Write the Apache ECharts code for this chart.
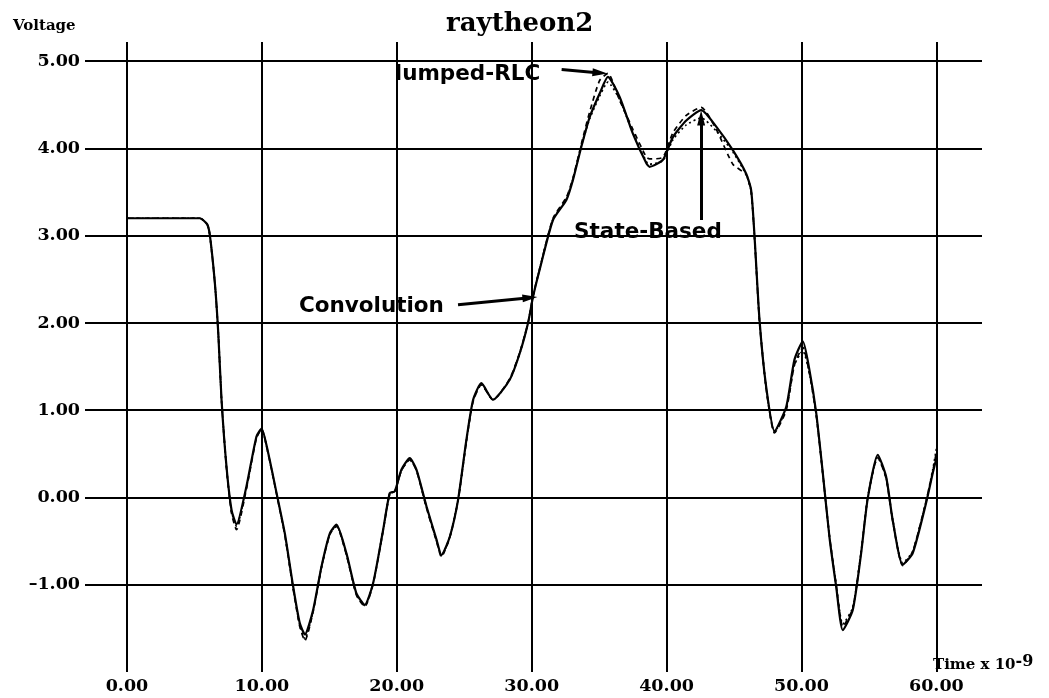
<!DOCTYPE html>
<html>
<head>
<meta charset="utf-8">
<script src="https://cdn.jsdelivr.net/npm/echarts@6/dist/echarts.min.js"></script>
<style>html,body{margin:0;padding:0;background:#fff}#c{width:1049px;height:698px}</style>
</head>
<body>
<div id="c"></div>
<script>
// Time (ns)
const timeNs = [0, 5.4, 5.95, 6.15, 6.52, 6.77, 7.01, 7.38, 7.75, 8.12, 8.86, 9.6, 9.98, 10.47, 11.09, 11.7, 12.32, 12.81, 13.19, 13.8, 14.42, 15.04, 15.53, 16.27, 17.01, 17.63, 18.25, 18.99, 19.48, 19.85, 20.35, 20.96, 21.46, 22.2, 22.94, 23.31, 23.93, 24.54, 25.16, 25.66, 26.27, 27.13, 28.37, 29.11, 29.73, 30.1, 30.59, 31.58, 32.57, 33.06, 33.68, 34.3, 35.04, 35.65, 36.52, 37.5, 38.5, 38.74, 39.73, 40.47, 41.46, 42.57, 43.68, 44.91, 45.9, 46.27, 46.52, 46.89, 47.38, 48.0, 48.87, 49.48, 50.1, 50.59, 51.09, 51.58, 52.07, 52.57, 53.06, 53.8, 54.42, 54.91, 55.65, 56.27, 56.76, 57.5, 58.24, 59.24, 59.73, 60.0];
const convolution = [3.20, 3.20, 3.13, 3.00, 2.45, 1.88, 1.12, 0.35, -0.14, -0.31, 0.13, 0.70, 0.79, 0.51, 0.05, -0.41, -1.02, -1.44, -1.57, -1.29, -0.79, -0.41, -0.31, -0.64, -1.10, -1.23, -0.98, -0.37, 0.05, 0.07, 0.32, 0.45, 0.32, -0.10, -0.48, -0.66, -0.45, -0.03, 0.66, 1.12, 1.31, 1.12, 1.35, 1.65, 2.00, 2.30, 2.61, 3.18, 3.41, 3.64, 4.02, 4.36, 4.63, 4.82, 4.59, 4.17, 3.83, 3.79, 3.87, 4.13, 4.32, 4.44, 4.25, 3.98, 3.71, 3.52, 2.99, 2.03, 1.27, 0.76, 1.04, 1.58, 1.79, 1.46, 0.97, 0.28, -0.45, -1.02, -1.52, -1.29, -0.64, -0.01, 0.49, 0.24, -0.26, -0.77, -0.64, -0.06, 0.28, 0.45];
const lumpedRLC = [3.20, 3.20, 3.13, 3.00, 2.45, 1.88, 1.12, 0.33, -0.18, -0.37, 0.10, 0.68, 0.78, 0.50, 0.04, -0.43, -1.05, -1.48, -1.64, -1.31, -0.80, -0.42, -0.33, -0.66, -1.12, -1.25, -0.99, -0.38, 0.04, 0.07, 0.31, 0.43, 0.31, -0.12, -0.50, -0.68, -0.46, -0.04, 0.64, 1.10, 1.29, 1.12, 1.36, 1.66, 2.00, 2.31, 2.62, 3.20, 3.44, 3.66, 4.05, 4.42, 4.78, 4.86, 4.55, 4.22, 3.90, 3.88, 3.90, 4.18, 4.38, 4.47, 4.22, 3.82, 3.70, 3.50, 2.97, 2.01, 1.25, 0.74, 1.00, 1.52, 1.72, 1.42, 0.95, 0.27, -0.44, -1.00, -1.48, -1.27, -0.63, 0.00, 0.46, 0.22, -0.27, -0.78, -0.62, -0.04, 0.30, 0.52];
const stateBased = [3.20, 3.20, 3.13, 3.00, 2.45, 1.88, 1.12, 0.34, -0.16, -0.33, 0.12, 0.69, 0.78, 0.50, 0.04, -0.42, -1.04, -1.46, -1.62, -1.30, -0.80, -0.42, -0.32, -0.65, -1.11, -1.24, -0.98, -0.37, 0.05, 0.07, 0.31, 0.44, 0.31, -0.11, -0.49, -0.67, -0.45, -0.03, 0.65, 1.11, 1.30, 1.12, 1.35, 1.65, 2.00, 2.30, 2.62, 3.19, 3.42, 3.65, 4.03, 4.34, 4.60, 4.76, 4.56, 4.18, 3.85, 3.82, 3.86, 4.10, 4.27, 4.35, 4.20, 3.96, 3.70, 3.51, 2.98, 2.02, 1.26, 0.75, 1.02, 1.52, 1.68, 1.42, 0.95, 0.27, -0.44, -1.00, -1.45, -1.26, -0.62, 0.00, 0.46, 0.23, -0.25, -0.75, -0.62, -0.04, 0.32, 0.56];
const xTicks = [0, 10, 20, 30, 40, 50, 60];
const yTicks = [-1, 0, 1, 2, 3, 4, 5];
// annotations: [name, x, y]
const annotations = [['lumped-RLC', 25.24, 4.843], ['State-Based', 38.62, 3.033], ['Convolution', 18.12, 2.188]];
// arrows: [x1, y1, x2, y2]
const arrows = [[32.22, 4.905, 35.06, 4.866], [42.56, 3.18, 42.56, 4.35], [24.54, 2.21, 29.87, 2.29]];

const pair = ys => timeNs.map((t, i) => [t, ys[i]]);
const serif = 'DejaVu Serif';
const sans = 'DejaVu Sans';

const chart = echarts.init(document.getElementById('c'), null, {renderer: 'canvas'});
chart.setOption({
  backgroundColor: '#fff',
  animation: false,
  title: [
    {text: 'raytheon2', left: 441, top: 4, textStyle: {fontFamily: serif, fontWeight: 'bold', fontSize: 26, color: '#000', lineHeight: 31}},
    {text: 'Voltage', left: 8, top: 12, textStyle: {fontFamily: serif, fontWeight: 'bold', fontSize: 15, color: '#000', lineHeight: 18}},
    {text: 'Time x 10{s|-9}', left: 928, top: 649, textStyle: {fontFamily: serif, fontWeight: 'bold', fontSize: 15, color: '#000', lineHeight: 22,
      rich: {s: {fontFamily: serif, fontWeight: 'bold', fontSize: 16, color: '#000', verticalAlign: 'top', padding: [0, 0, 10, 0], lineHeight: 22}}}}
  ],
  grid: {left: 85, right: 67, top: 42, bottom: 26, containLabel: false},
  xAxis: {
    type: 'value', min: -3.11, max: 63.38,
    axisLine: {show: false}, axisTick: {show: false}, splitLine: {show: false},
    axisLabel: {customValues: xTicks, margin: 5, formatter: v => v.toFixed(2),
      fontFamily: serif, fontWeight: 'bold', fontSize: 17.5, color: '#000'}
  },
  yAxis: {
    type: 'value', min: -2.0, max: 5.22,
    axisLine: {show: false}, axisTick: {show: false}, splitLine: {show: false},
    axisLabel: {customValues: yTicks, margin: 5, formatter: v => v.toFixed(2).replace('-', '\u2013'),
      fontFamily: serif, fontWeight: 'bold', fontSize: 17.5, color: '#000'}
  },
  series: [
    {
      name: 'grid', type: 'line', data: [], silent: true,
      markLine: {
        silent: true, symbol: ['none', 'none'], animation: false,
        label: {show: false},
        lineStyle: {color: '#000', width: 2, type: 'solid'},
        data: xTicks.map(v => ({xAxis: v})).concat(yTicks.map(v => ({yAxis: v})))
      }
    },
    {
      name: 'Convolution', type: 'line', data: pair(convolution), showSymbol: false, smooth: 0.2,
      lineStyle: {color: '#000', width: 2.2}, z: 5
    },
    {
      name: 'lumped-RLC', type: 'line', data: pair(lumpedRLC), showSymbol: false, smooth: 0.2,
      lineStyle: {color: '#000', width: 1.7, type: [5, 4]}, z: 4
    },
    {
      name: 'State-Based', type: 'line', data: pair(stateBased), showSymbol: false, smooth: 0.2,
      lineStyle: {color: '#000', width: 1.7, type: [2, 3]}, z: 4
    },
    {
      name: 'annot', type: 'line', data: [], silent: true, z: 6,
      markLine: {
        silent: true, animation: false, symbol: ['none', 'triangle'], symbolSize: 14,
        label: {show: false},
        lineStyle: {color: '#000', width: 3, type: 'solid'},
        itemStyle: {color: '#000'},
        data: arrows.map(a => [
          {coord: [a[0], a[1]], symbol: 'none'},
          {coord: [a[2], a[3]], symbol: 'triangle', symbolSize: [8, 15]}
        ])
      },
      markPoint: {
        silent: true, animation: false, symbol: 'circle', symbolSize: 0,
        label: {show: true, position: 'inside', formatter: p => p.name,
          fontFamily: sans, fontWeight: 'bold', fontSize: 21.5, color: '#000'},
        data: annotations.map(a => ({name: a[0], coord: [a[1], a[2]]}))
      }
    }
  ]
});
</script>
</body>
</html>
